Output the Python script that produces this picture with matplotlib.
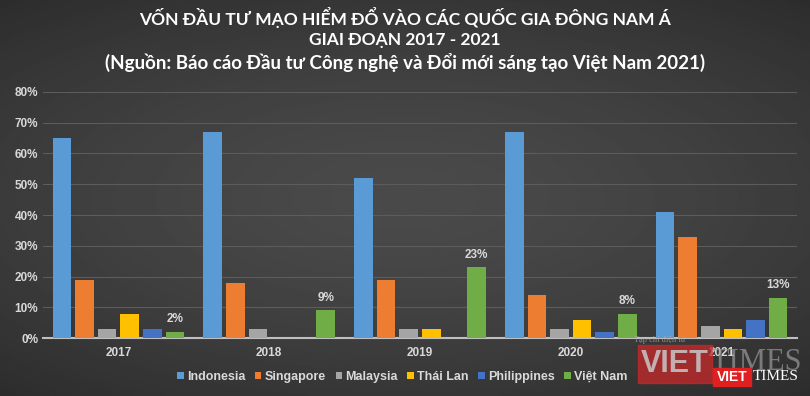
#!/usr/bin/env python3
# -*- coding: utf-8 -*-
# Von dau tu mao hiem vao Dong Nam A, 2017 - 2021 (grouped bars)
import numpy as np
import matplotlib
matplotlib.use("Agg")
import matplotlib.pyplot as plt
from matplotlib.patches import Rectangle

#----------------------------- data ------------------------------------------#
years = ["2017", "2018", "2019", "2020", "2021"]
countries = ["Indonesia", "Singapore", "Malaysia", "Thái Lan", "Philippines", "Việt Nam"]
indonesia = [65, 67, 52, 67, 41]
singapore = [19, 18, 19, 14, 33]
malaysia = [3, 3, 3, 3, 4]
thailand = [8, 0, 3, 6, 3]
philippines = [3, 0, 0, 2, 6]
vietnam = [2, 9, 23, 8, 13]
yticks = [0, 10, 20, 30, 40, 50, 60, 70, 80]

colors = ["#5b9bd5", "#ed7d31", "#a5a5a5", "#ffc000", "#4472c4", "#70ad47"]
txt = "#d9d9d9"
plt.rcParams['font.family'] = ['Liberation Sans', 'DejaVu Sans']

fig = plt.figure(figsize=(8.1, 3.96), dpi=100)

#----------------------------- background ------------------------------------#
bg = fig.add_axes([0, 0, 1, 1], zorder=-10)
yy, xx = np.mgrid[-1:1:200j, -1:1:400j]
r = np.sqrt((xx * 0.75) ** 2 + (yy * 0.9) ** 2)
bg.imshow(0.29 - 0.09 * r ** 1.5, cmap="gray", vmin=0, vmax=1, aspect="auto",
          extent=[0, 1, 0, 1])
bg.axis("off")

#----------------------------- bars ------------------------------------------#
ax = fig.add_axes([0.053, 0.146, 0.931, 0.622])
ax.patch.set_alpha(0)
series = [indonesia, singapore, malaysia, thailand, philippines, vietnam]
x = np.arange(len(years))
step = 0.15
w = 0.123
for i, (vals, c, name) in enumerate(zip(series, colors, countries)):
    pos = x + (i - 2.5) * step
    ax.bar(pos, vals, width=w, color=c, linewidth=0, label=name, zorder=3)
    if name == "Việt Nam":
        for p, v in zip(pos, vals):
            ax.text(p, v + 2.2, "%d%%" % v, ha="center", va="bottom",
                    color=txt, fontsize=8.5, fontweight="bold")

ax.set_xlim(-0.5, 4.5)
ax.set_ylim(0, 80)
ax.set_yticks(yticks)
ax.set_yticklabels(["%d%%" % t for t in yticks])
ax.set_xticks(x)
ax.set_xticklabels(years)
ax.tick_params(axis="both", length=0, colors=txt, labelsize=8.5)
ax.tick_params(axis="x", pad=6)
for lab in ax.get_xticklabels() + ax.get_yticklabels():
    lab.set_fontweight("bold")
ax.yaxis.grid(True, color="#5c5c5c", linewidth=0.8, zorder=0)
for s in ["top", "right", "left"]:
    ax.spines[s].set_visible(False)
ax.spines["bottom"].set_color("#bfbfbf")
ax.spines["bottom"].set_linewidth(1.5)

leg = fig.legend(loc="center", bbox_to_anchor=(0.497, 0.048), ncol=6, frameon=False,
                 handlelength=0.5, handleheight=0.5, handletextpad=0.3,
                 columnspacing=0.75, prop={"size": 9, "weight": "bold"})
for t in leg.get_texts():
    t.set_color(txt)

#----------------------------- title -----------------------------------------#
tfont = ['Lato', 'DejaVu Sans']
fig.text(0.5, 0.955, "VỐN ĐẦU TƯ MẠO HIỂM ĐỔ VÀO CÁC QUỐC GIA ĐÔNG NAM Á",
         ha="center", va="center", color="white", fontsize=12.5, fontweight="bold",
         family=tfont)
fig.text(0.5, 0.898, "GIAI ĐOẠN 2017 - 2021",
         ha="center", va="center", color="white", fontsize=12.5, fontweight="bold",
         family=tfont)
fig.text(0.5, 0.843, "(Nguồn: Báo cáo Đầu tư Công nghệ và Đổi mới sáng tạo Việt Nam 2021)",
         ha="center", va="center", color="white", fontsize=13.5, fontweight="bold",
         family=tfont)

#----------------------------- watermark -------------------------------------#
W, H = 810.0, 396.0
fig.patches.append(Rectangle((638 / W, 1 - 383 / H), 74 / W, 38 / H,
                             transform=fig.transFigure, color="#c8282a", alpha=0.75, zorder=5))
fig.text(675 / W, 1 - 364 / H, "VIET", ha="center", va="center", color="#c8c8c8",
         fontsize=22, fontweight="bold", alpha=0.85, zorder=6)
fig.text(756 / W, 1 - 363 / H, "TIMES", ha="center", va="center", color="#9a9a9a",
         fontsize=22, family="Liberation Serif", alpha=0.7, zorder=6)
fig.text(660 / W, 1 - 340 / H, "Tạp chí điện tử", ha="center", va="center",
         color="#b0b0b0", fontsize=6, family="Liberation Serif", alpha=0.7, zorder=6)
fig.patches.append(Rectangle((713 / W, 1 - 386 / H), 38 / W, 18 / H,
                             transform=fig.transFigure, color="#e02020", zorder=7))
fig.text(732 / W, 1 - 377 / H, "VIET", ha="center", va="center", color="white",
         fontsize=10, fontweight="bold", zorder=8)
fig.text(776 / W, 1 - 377 / H, "TIMES", ha="center", va="center", color="white",
         fontsize=11, family="Liberation Serif", zorder=8)

fig.savefig("out.png", dpi=100)
